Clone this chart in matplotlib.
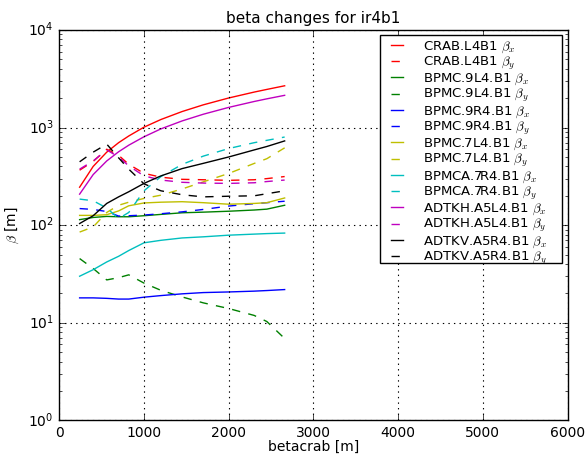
import matplotlib
matplotlib.use("Agg")
import matplotlib.pyplot as plt
from matplotlib.patches import Rectangle

plt.style.use('classic')

betacrab = [240, 400, 560, 700, 820, 1000, 1200, 1450, 1700, 2000, 2300, 2450, 2660]

crab_bx = [245, 400, 560, 700, 820, 1010, 1210, 1460, 1710, 2010, 2310, 2460, 2680]
crab_by = [366, 450, 600, 520, 420, 340, 310, 295, 292, 288, 292, 300, 315]
bpmc9l4_bx = [114, 120, 123, 122, 122, 125, 129, 134, 136, 139, 143, 146, 160]
bpmc9l4_by = [45.5, 36, 27.5, 29, 31, 25.5, 21.5, 18.4, 16, 14, 11.9, 10.3, 6.9]
bpmc9r4_bx = [18, 18, 17.8, 17.5, 17.5, 18.3, 19, 19.8, 20.4, 20.7, 21.1, 21.4, 21.9]
bpmc9r4_by = [148, 145, 138, 124, 125, 127, 131, 137, 145, 157, 166, 170, 176]
bpmc7l4_bx = [126, 126, 128, 140, 158, 169, 172, 174, 170, 164, 167, 170, 190]
bpmc7l4_by = [85, 96, 135, 160, 172, 188, 203, 235, 278, 339, 429, 480, 620]
bpmca7r4_bx = [30, 35, 42, 48, 55, 66, 70, 74, 76, 79, 81, 82, 83]
bpmca7r4_by = [185, 178, 150, 117, 135, 225, 315, 420, 510, 610, 700, 740, 800]
adtkh_bx = [208, 330, 455, 565, 660, 805, 970, 1170, 1370, 1610, 1850, 1970, 2140]
adtkh_by = [375, 455, 590, 500, 405, 320, 290, 275, 270, 268, 272, 280, 290]
adtkv_bx = [104, 125, 167, 195, 220, 268, 320, 380, 430, 500, 590, 640, 730]
adtkv_by = [446, 560, 677, 490, 375, 265, 225, 205, 195, 198, 200, 210, 225]

series = [
    ("CRAB.L4B1", 'r', crab_bx, crab_by),
    ("BPMC.9L4.B1", 'g', bpmc9l4_bx, bpmc9l4_by),
    ("BPMC.9R4.B1", 'b', bpmc9r4_bx, bpmc9r4_by),
    ("BPMC.7L4.B1", 'y', bpmc7l4_bx, bpmc7l4_by),
    ("BPMCA.7R4.B1", 'c', bpmca7r4_bx, bpmca7r4_by),
    ("ADTKH.A5L4.B1", 'm', adtkh_bx, adtkh_by),
    ("ADTKV.A5R4.B1", 'k', adtkv_bx, adtkv_by),
]

fig = plt.figure(figsize=(5.87, 4.54), dpi=100, facecolor='white')
ax = fig.add_axes([0.101, 0.074, 0.866, 0.86])

for name, col, bx, by in series:
    ax.plot(betacrab, bx, color=col, ls='-', lw=1, label=name + r' $\beta_x$')
    ax.plot(betacrab, by, color=col, ls='--', lw=1, label=name + r' $\beta_y$')

ax.set_yscale('log')
ax.set_xlim(0, 6000)
ax.set_ylim(1, 1e4)
ax.grid(True, color='k', ls=':', lw=0.8)
ax.set_title('beta changes for ir4b1', fontsize=11)
ax.set_xlabel('betacrab [m]', fontsize=10, labelpad=0)
ax.set_ylabel(r'$\beta$ [m]', fontsize=10)
ax.tick_params(labelsize=10)

# legend frame (drawn as a box in axes coordinates)
frame = Rectangle((0.631, 0.404), 0.357, 0.582, transform=ax.transAxes,
                  facecolor='white', edgecolor='k', lw=1, zorder=4.9)
ax.add_patch(frame)
leg = ax.legend(loc='upper left', bbox_to_anchor=(0.6446, 0.976),
                fontsize=9.5, handlelength=1.5, handletextpad=1.2,
                labelspacing=0.0, borderpad=0.0, borderaxespad=0.0,
                frameon=False)
leg.set_zorder(5)

fig.savefig('out.png', dpi=100, facecolor='white')
